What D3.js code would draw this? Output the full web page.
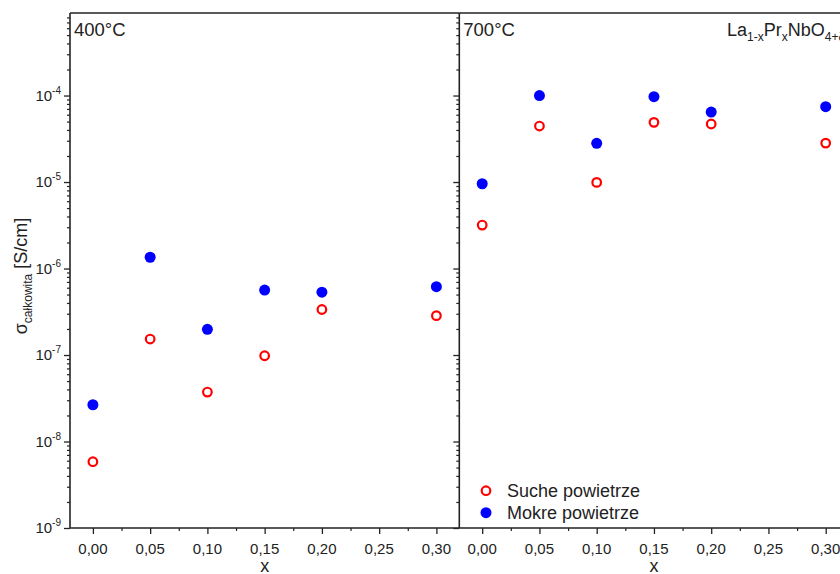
<!DOCTYPE html>
<html><head><meta charset="utf-8">
<script src="https://cdn.jsdelivr.net/npm/d3@7"></script>
<style>body{margin:0;background:#fff}svg{display:block}text{font-family:"Liberation Sans",Arial,sans-serif;fill:#222}</style>
</head><body><svg id="c" width="840" height="574"></svg>
<script>
const xs = [0, 0.05, 0.10, 0.15, 0.20, 0.30];
const dry400 = [5.84e-9, 1.53e-7, 3.73e-8, 9.8e-8, 3.36e-7, 2.85e-7];
const wet400 = [2.66e-8, 1.35e-6, 1.98e-7, 5.64e-7, 5.32e-7, 6.16e-7];
const dry700 = [3.18e-6, 4.44e-5, 9.9e-6, 4.9e-5, 4.69e-5, 2.82e-5];
const wet700 = [9.55e-6, 1.0e-4, 2.8e-5, 9.7e-5, 6.44e-5, 7.43e-5];
const panelTitles = ["400°C", "700°C"];
const xTicks = [0, 0.05, 0.10, 0.15, 0.20, 0.25, 0.30];
const yExps = [-9, -8, -7, -6, -5, -4];
const legendLabels = ["Suche powietrze", "Mokre powietrze"];

const svg = d3.select("#c");
const plotTop = 13, plotBottom = 528, pw = 389.3, left0 = 70;
const y = d3.scaleLog().domain([1e-9, 9e-4]).range([plotBottom, plotTop]);
const axisColor = "#222";

const panels = [
  {dry: dry400, wet: wet400, title: panelTitles[0]},
  {dry: dry700, wet: wet700, title: panelTitles[1]}
];

const minorVals = [];
for (let e = -9; e <= -4; e++) for (let m = 2; m <= 9; m++) { const v = m * Math.pow(10, e); if (v < 9e-4) minorVals.push(v); }

panels.forEach((p, i) => {
  const x0 = left0 + i * pw;
  const x = d3.scaleLinear().domain([-0.02, 0.32]).range([x0, x0 + pw]);
  const g = svg.append("g");
  g.append("g").attr("transform", `translate(${x0},0)`)
    .call(d3.axisLeft(y).tickValues(yExps.map(e => Math.pow(10, e))).tickSize(6).tickFormat(""))
    .call(s => s.select(".domain").remove())
    .call(s => s.selectAll("line").attr("stroke", axisColor).attr("stroke-width", 1.3));
  g.append("g").attr("transform", `translate(${x0},0)`)
    .call(d3.axisLeft(y).tickValues(minorVals).tickSize(3).tickFormat(""))
    .call(s => s.select(".domain").remove())
    .call(s => s.selectAll("line").attr("stroke", axisColor).attr("stroke-width", 1.2));
  g.append("g").attr("transform", `translate(0,${plotBottom})`)
    .call(d3.axisBottom(x).tickValues(xTicks).tickSize(6).tickFormat(""))
    .call(s => s.select(".domain").remove())
    .call(s => s.selectAll("line").attr("stroke", axisColor).attr("stroke-width", 1.3));
  g.append("g").attr("transform", `translate(0,${plotBottom})`)
    .call(d3.axisBottom(x).tickValues(d3.range(0.025, 0.32, 0.05)).tickSize(3).tickFormat(""))
    .call(s => s.select(".domain").remove())
    .call(s => s.selectAll("line").attr("stroke", axisColor).attr("stroke-width", 1.2));
  g.selectAll("text.xt").data(xTicks).enter().append("text")
    .attr("x", d => x(d)).attr("y", 553.5).attr("text-anchor", "middle")
    .attr("font-size", 15).text(d => d.toFixed(2).replace(".", ","));
  g.append("text").attr("x", x0 + pw / 2).attr("y", 572).attr("text-anchor", "middle")
    .attr("font-size", 18).text("x");
  g.append("line").attr("x1", x0).attr("x2", x0).attr("y1", plotTop).attr("y2", plotBottom)
    .attr("stroke", axisColor).attr("stroke-width", 1.6);
  g.append("line").attr("x1", x0).attr("x2", x0 + pw).attr("y1", plotBottom).attr("y2", plotBottom)
    .attr("stroke", axisColor).attr("stroke-width", 1.6);
  g.append("line").attr("x1", x0).attr("x2", x0 + pw).attr("y1", plotTop).attr("y2", plotTop)
    .attr("stroke", axisColor).attr("stroke-width", 1.6);
  g.append("text").attr("x", x0 + 4).attr("y", 35.5).attr("font-size", 18.5).text(p.title);
  g.selectAll("circle.wet").data(xs).enter().append("circle")
    .attr("cx", d => x(d)).attr("cy", (d, j) => y(p.wet[j])).attr("r", 5.5)
    .attr("fill", "#0000ff");
  g.selectAll("circle.dry").data(xs).enter().append("circle")
    .attr("cx", d => x(d)).attr("cy", (d, j) => y(p.dry[j])).attr("r", 4.3)
    .attr("fill", "none").attr("stroke", "#ff0000").attr("stroke-width", 2.2);
});

const yl = svg.append("g");
yExps.forEach(e => {
  const t = yl.append("text").attr("x", 61).attr("y", y(Math.pow(10, e)) + 5).attr("text-anchor", "end").attr("font-size", 15);
  t.append("tspan").text("10");
  t.append("tspan").attr("font-size", 10).attr("dy", -7).text("-" + Math.abs(e));
});

const yt = svg.append("text").attr("transform", `translate(27,276) rotate(-90)`)
  .attr("text-anchor", "middle").attr("font-size", 18);
yt.append("tspan").text("σ");
yt.append("tspan").attr("font-size", 12).attr("dy", 5).text("całkowita");
yt.append("tspan").attr("dy", -5).text(" [S/cm]");

const f = svg.append("text").attr("x", 727).attr("y", 35.5).attr("font-size", 18);
f.append("tspan").text("La");
f.append("tspan").attr("font-size", 12).attr("dy", 5).text("1-x");
f.append("tspan").attr("dy", -5).text("Pr");
f.append("tspan").attr("font-size", 12).attr("dy", 5).text("x");
f.append("tspan").attr("dy", -5).text("NbO");
f.append("tspan").attr("font-size", 12).attr("dy", 5).text("4+δ");

const lg = svg.append("g");
lg.append("circle").attr("cx", 486).attr("cy", 490.7).attr("r", 4.3).attr("fill", "none").attr("stroke", "#ff0000").attr("stroke-width", 2.2);
lg.append("circle").attr("cx", 486).attr("cy", 512.7).attr("r", 5.5).attr("fill", "#0000ff");
lg.append("text").attr("x", 507).attr("y", 497).attr("font-size", 18).text(legendLabels[0]);
lg.append("text").attr("x", 507).attr("y", 519).attr("font-size", 18).text(legendLabels[1]);
</script></body></html>
